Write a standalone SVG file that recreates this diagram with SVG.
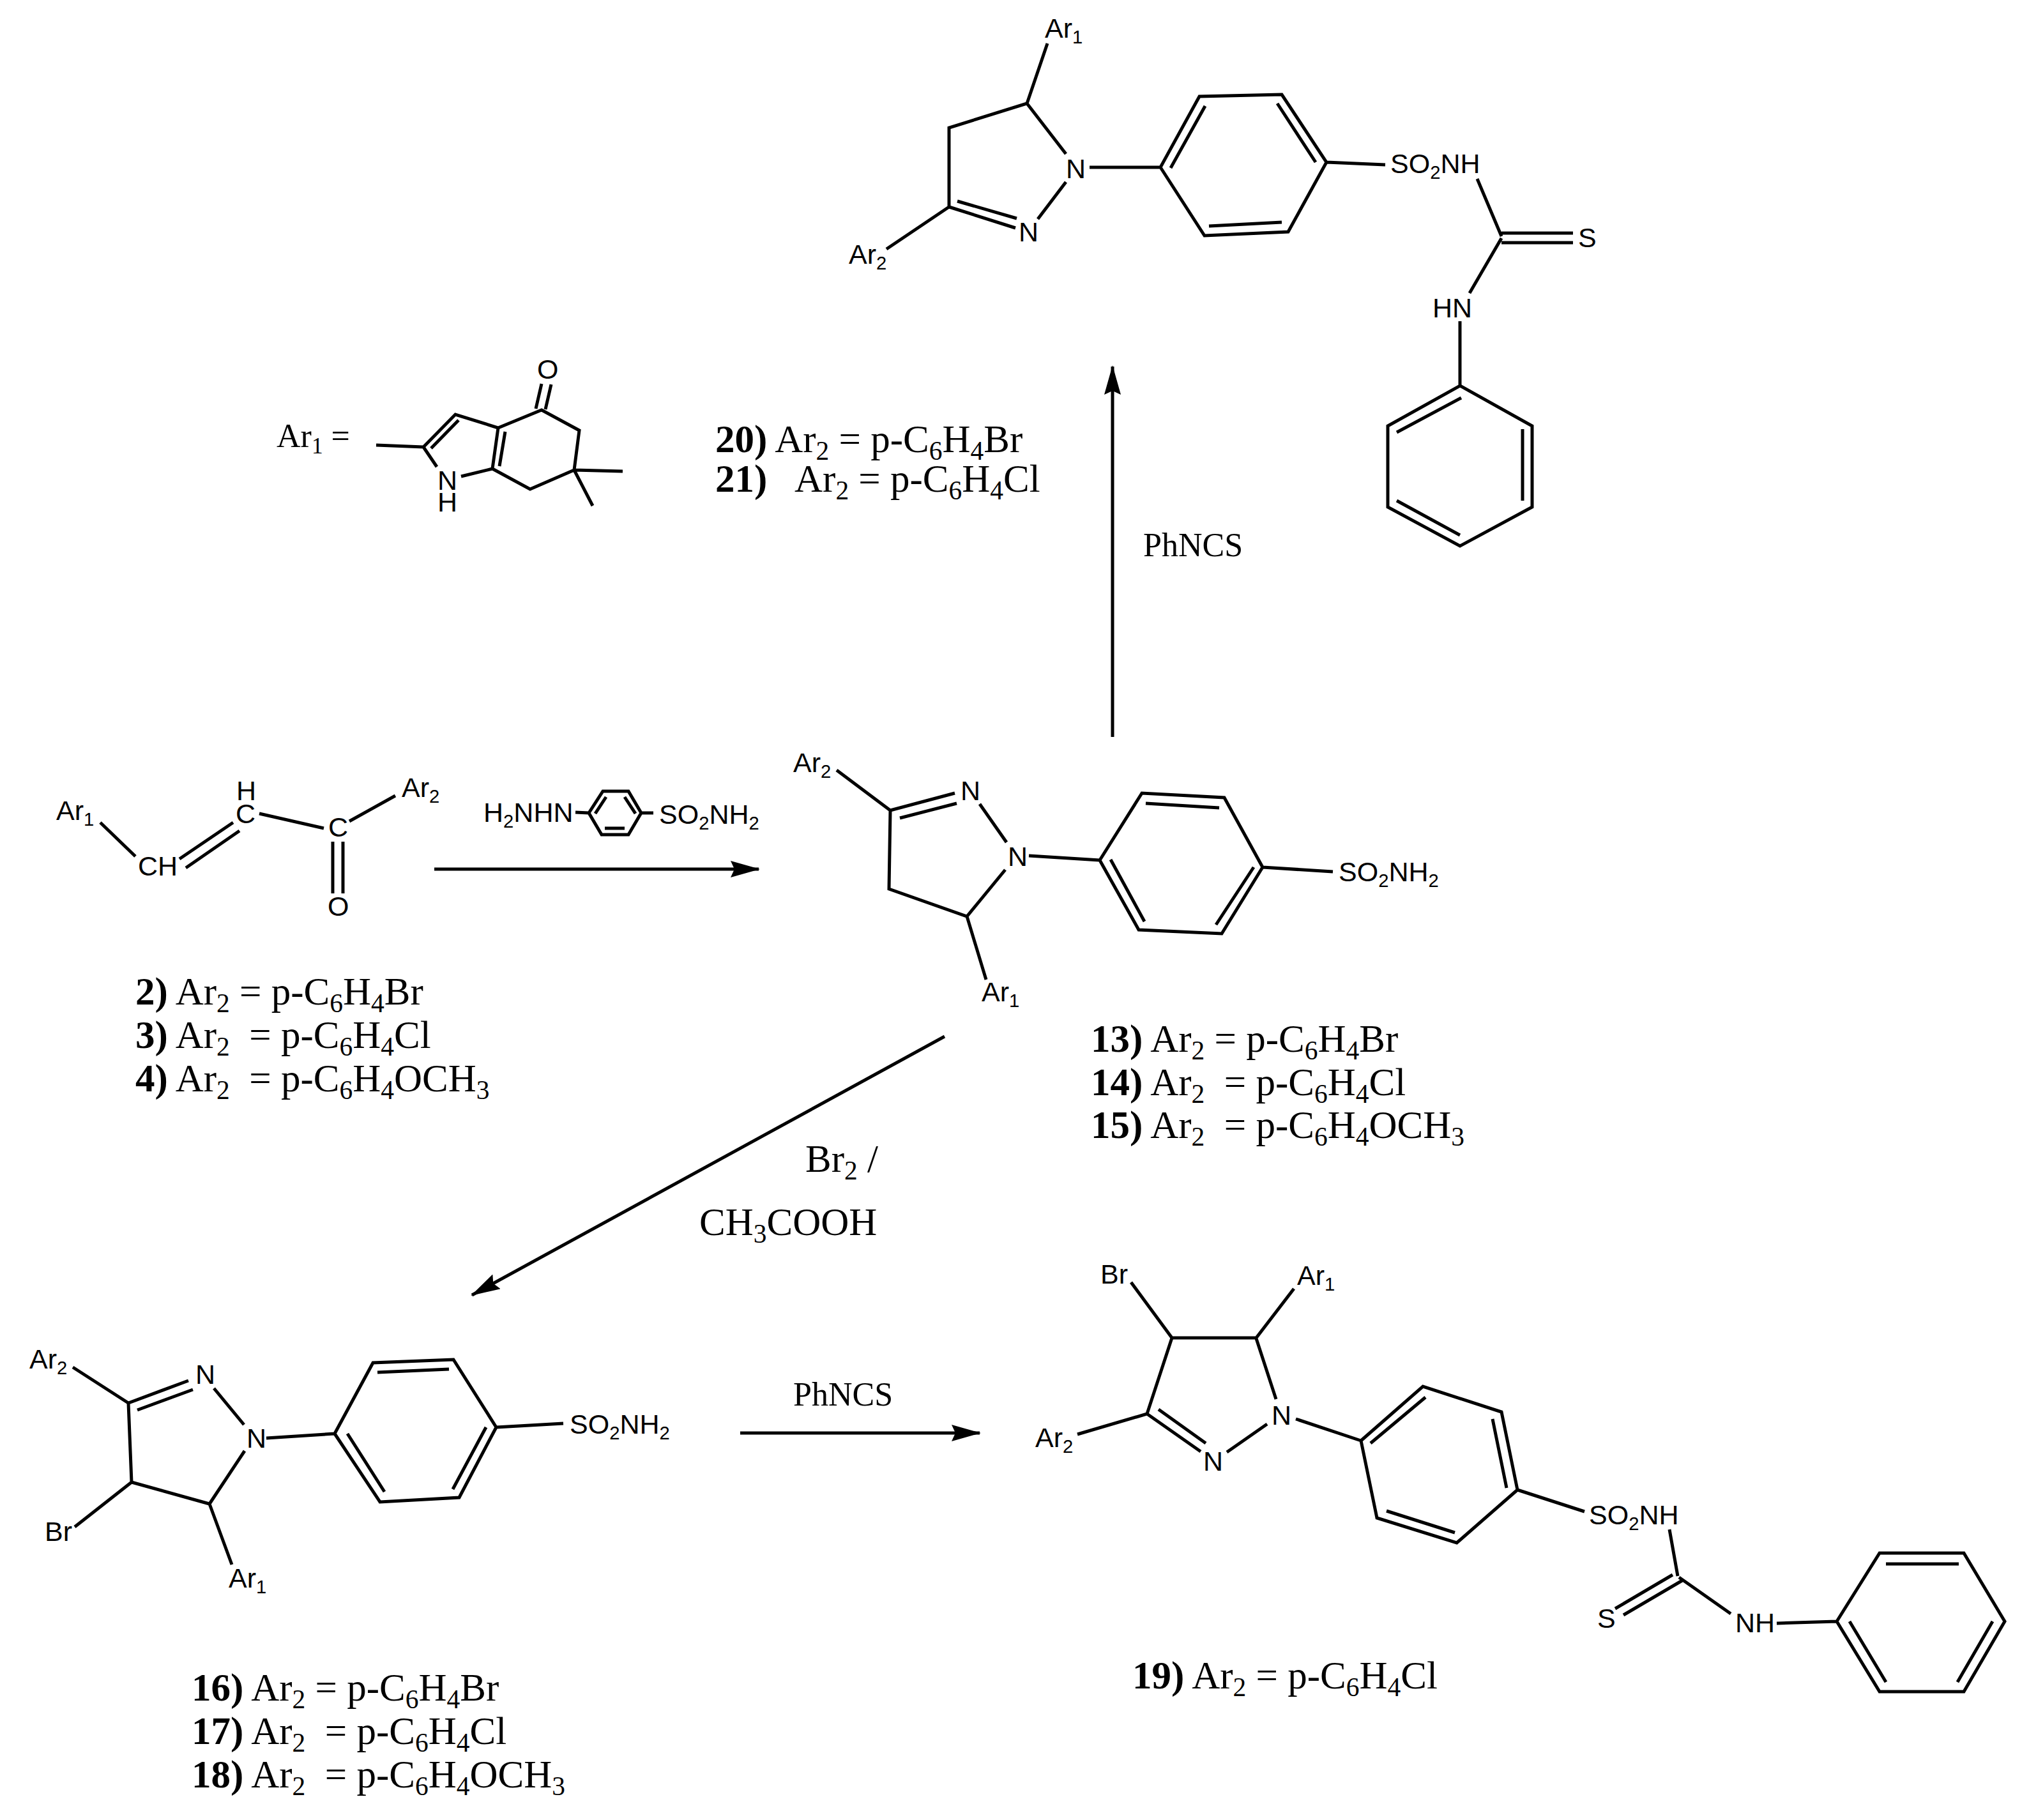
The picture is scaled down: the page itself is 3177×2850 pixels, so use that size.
<svg xmlns="http://www.w3.org/2000/svg" width="3177" height="2850" viewBox="0 0 3177 2850">
<style>
.b{fill:none;stroke:#000;stroke-width:5;stroke-linecap:butt;stroke-linejoin:miter}
.a{fill:none;stroke:#000;stroke-width:5}
text{fill:#000;white-space:pre}
.s{font-family:"Liberation Sans",Arial,sans-serif;font-size:43px}
.t{font-family:"Liberation Serif","Times New Roman",serif;font-size:61px}
.r{font-family:"Liberation Serif","Times New Roman",serif;font-size:52px}
.n{font-weight:bold}
.d{font-size:.68em}
</style>
<defs>
<marker id="h" markerUnits="userSpaceOnUse" markerWidth="50" markerHeight="30" refX="44" refY="13" orient="auto"><path d="M0 0L46 13L0 26L6 13Z" fill="#000"/></marker>
</defs>
<rect width="3177" height="2850" fill="#fff"/>
<g id="connectors">
<path class="a" d="M1742 1154V574" marker-end="url(#h)"/>
<path class="a" d="M680 1361H1188" marker-end="url(#h)"/>
<path class="a" d="M1479 1623L739 2028" marker-end="url(#h)"/>
<path class="a" d="M1159 2244H1534" marker-end="url(#h)"/>
</g>
<g id="reagents">
<text class="r" x="1790" y="871">PhNCS</text>
<text class="t" x="1261" y="1835">Br<tspan class="d" dy="12">2</tspan><tspan dy="-12"> /</tspan></text>
<text class="t" x="1095" y="1934">CH<tspan class="d" dy="12">3</tspan><tspan dy="-12">COOH</tspan></text>
<text class="r" x="1242" y="2201">PhNCS</text>
<g id="hydrazine">
<path class="b" d="M922 1273L944 1239H984L1004 1273L984 1307H942ZM949 1248L932 1274M978 1248L995 1274M947 1297H978M901 1272L922 1273M1004 1273H1023"/>
<text class="s" x="757" y="1287">H<tspan class="d" dy="9">2</tspan><tspan dy="-9">NHN</tspan></text>
<text class="s" x="1032" y="1290">SO<tspan class="d" dy="9">2</tspan><tspan dy="-9">NH</tspan><tspan class="d" dy="9">2</tspan></text>
</g>
</g>
<g id="compound-thiourea-top">
<path class="b" d="M1640 68L1608 162L1486 200V324L1388 390M1608 162L1669 241M1669 285L1625 343M1486 324L1590 357M1499 315L1592 342M1706 262H1817M1817 262L1878 151L2007 148L2077 254L2017 363L1886 369ZM1887 166L1833 263M2000 162L2060 254M1893 354L2007 348M2077 254L2169 258M2313 280L2351 370M2351 365H2463M2351 380H2463M2351 373L2301 459M2286 503V604M2286 604L2399 667V794L2286 855L2173 794V667ZM2288 623L2187 677M2384 672V784M2187 784L2286 838"/>
<text class="s" x="1636" y="59">Ar<tspan class="d" dy="9">1</tspan></text>
<text class="s" x="1669" y="279">N</text>
<text class="s" x="1595" y="378">N</text>
<text class="s" x="1329" y="413">Ar<tspan class="d" dy="9">2</tspan></text>
<text class="s" x="2177" y="271">SO<tspan class="d" dy="9">2</tspan><tspan dy="-9">NH</tspan></text>
<text class="s" x="2471" y="387">S</text>
<text class="s" x="2243" y="497">HN</text>
</g>
<g id="ar1-definition">
<path class="b" d="M589 697L663 700L713 649L780 670L771 734M663 700L684 731M722 746L771 734L830 766L899 736L907 674L848 642L780 670M675 702L718 658M791 676L782 730M839 640L848 601M854 641L863 602M899 736L975 738M899 736L928 792"/>
<text class="t" x="433" y="700" style="font-size:52px">Ar<tspan class="d" dy="10">1</tspan><tspan dy="-10"> =</tspan></text>
<text class="s" x="685" y="767">N</text>
<text class="s" x="685" y="801">H</text>
<text class="s" x="841" y="593">O</text>
</g>
<g id="labels-20-21">
<text class="t" x="1120" y="708"><tspan class="n">20)</tspan> Ar<tspan class="d" dy="12">2</tspan><tspan dy="-12"> = p-C</tspan><tspan class="d" dy="12">6</tspan><tspan dy="-12">H</tspan><tspan class="d" dy="12">4</tspan><tspan dy="-12">Br</tspan></text>
<text class="t" x="1120" y="770"><tspan class="n">21)</tspan><tspan x="1244">Ar</tspan><tspan class="d" dy="12">2</tspan><tspan dy="-12"> = p-C</tspan><tspan class="d" dy="12">6</tspan><tspan dy="-12">H</tspan><tspan class="d" dy="12">4</tspan><tspan dy="-12">Cl</tspan></text>
</g>
<g id="compound-chalcone">
<path class="b" d="M157 1288L212 1341M281 1345L365 1288M291 1359L375 1301M406 1274L507 1297M547 1286L619 1246M521 1318V1399M537 1318V1399"/>
<text class="s" x="88" y="1284">Ar<tspan class="d" dy="9">1</tspan></text>
<text class="s" x="216" y="1371">CH</text>
<text class="s" x="370" y="1253">H</text>
<text class="s" x="369" y="1289">C</text>
<text class="s" x="514" y="1310">C</text>
<text class="s" x="629" y="1248">Ar<tspan class="d" dy="9">2</tspan></text>
<text class="s" x="513" y="1434">O</text>
</g>
<g id="labels-2-4">
<text class="t" x="212" y="1573"><tspan class="n">2)</tspan> Ar<tspan class="d" dy="12">2</tspan><tspan dy="-12"> = p-C</tspan><tspan class="d" dy="12">6</tspan><tspan dy="-12">H</tspan><tspan class="d" dy="12">4</tspan><tspan dy="-12">Br</tspan></text>
<text class="t" x="212" y="1641"><tspan class="n">3)</tspan> Ar<tspan class="d" dy="12">2</tspan><tspan dy="-12">  = p-C</tspan><tspan class="d" dy="12">6</tspan><tspan dy="-12">H</tspan><tspan class="d" dy="12">4</tspan><tspan dy="-12">Cl</tspan></text>
<text class="t" x="212" y="1709"><tspan class="n">4)</tspan> Ar<tspan class="d" dy="12">2</tspan><tspan dy="-12">  = p-C</tspan><tspan class="d" dy="12">6</tspan><tspan dy="-12">H</tspan><tspan class="d" dy="12">4</tspan><tspan dy="-12">OCH</tspan><tspan class="d" dy="12">3</tspan></text>
</g>
<g id="compound-pyrazoline">
<path class="b" d="M1310 1206L1394 1269L1495 1242M1409 1281L1498 1258M1534 1259L1576 1319M1394 1269L1392 1392L1514 1435L1574 1362M1514 1435L1544 1534M1611 1340L1722 1347M1722 1347L1788 1242L1917 1249L1977 1358L1913 1462L1783 1456ZM1794 1258L1909 1265M1739 1346L1792 1443M1963 1358L1904 1448M1977 1358L2087 1365"/>
<text class="s" x="1242" y="1209">Ar<tspan class="d" dy="9">2</tspan></text>
<text class="s" x="1504" y="1253">N</text>
<text class="s" x="1578" y="1356">N</text>
<text class="s" x="1537" y="1568">Ar<tspan class="d" dy="9">1</tspan></text>
<text class="s" x="2096" y="1380">SO<tspan class="d" dy="9">2</tspan><tspan dy="-9">NH</tspan><tspan class="d" dy="9">2</tspan></text>
</g>
<g id="labels-13-15">
<text class="t" x="1708" y="1647"><tspan class="n">13)</tspan> Ar<tspan class="d" dy="12">2</tspan><tspan dy="-12"> = p-C</tspan><tspan class="d" dy="12">6</tspan><tspan dy="-12">H</tspan><tspan class="d" dy="12">4</tspan><tspan dy="-12">Br</tspan></text>
<text class="t" x="1708" y="1715"><tspan class="n">14)</tspan> Ar<tspan class="d" dy="12">2</tspan><tspan dy="-12">  = p-C</tspan><tspan class="d" dy="12">6</tspan><tspan dy="-12">H</tspan><tspan class="d" dy="12">4</tspan><tspan dy="-12">Cl</tspan></text>
<text class="t" x="1708" y="1782"><tspan class="n">15)</tspan> Ar<tspan class="d" dy="12">2</tspan><tspan dy="-12">  = p-C</tspan><tspan class="d" dy="12">6</tspan><tspan dy="-12">H</tspan><tspan class="d" dy="12">4</tspan><tspan dy="-12">OCH</tspan><tspan class="d" dy="12">3</tspan></text>
</g>
<g id="compound-bromo">
<path class="b" d="M114 2141L201 2197L295 2162M215 2208L302 2176M335 2174L382 2231M201 2197L206 2321L328 2355L383 2272M206 2321L117 2391M328 2355L363 2450M417 2252L524 2245M524 2245L584 2134L710 2129L777 2235L719 2345L595 2352ZM591 2149L703 2144M544 2245L602 2336M761 2235L709 2332M777 2235L882 2229"/>
<text class="s" x="46" y="2143">Ar<tspan class="d" dy="9">2</tspan></text>
<text class="s" x="306" y="2167">N</text>
<text class="s" x="386" y="2267">N</text>
<text class="s" x="70" y="2413">Br</text>
<text class="s" x="358" y="2486">Ar<tspan class="d" dy="9">1</tspan></text>
<text class="s" x="892" y="2245">SO<tspan class="d" dy="9">2</tspan><tspan dy="-9">NH</tspan><tspan class="d" dy="9">2</tspan></text>
</g>
<g id="labels-16-18">
<text class="t" x="300" y="2663"><tspan class="n">16)</tspan> Ar<tspan class="d" dy="12">2</tspan><tspan dy="-12"> = p-C</tspan><tspan class="d" dy="12">6</tspan><tspan dy="-12">H</tspan><tspan class="d" dy="12">4</tspan><tspan dy="-12">Br</tspan></text>
<text class="t" x="300" y="2731"><tspan class="n">17)</tspan> Ar<tspan class="d" dy="12">2</tspan><tspan dy="-12">  = p-C</tspan><tspan class="d" dy="12">6</tspan><tspan dy="-12">H</tspan><tspan class="d" dy="12">4</tspan><tspan dy="-12">Cl</tspan></text>
<text class="t" x="300" y="2799"><tspan class="n">18)</tspan> Ar<tspan class="d" dy="12">2</tspan><tspan dy="-12">  = p-C</tspan><tspan class="d" dy="12">6</tspan><tspan dy="-12">H</tspan><tspan class="d" dy="12">4</tspan><tspan dy="-12">OCH</tspan><tspan class="d" dy="12">3</tspan></text>
</g>
<g id="compound-bromo-thiourea">
<path class="b" d="M1771 2008L1835 2095H1967L2026 2018M1967 2096L1998 2191M1984 2230L1921 2274M1796 2214L1880 2273M1814 2207L1888 2260M1835 2095L1796 2214L1687 2246M2029 2222L2131 2256M2131 2256L2228 2171L2351 2211L2376 2333L2281 2416L2156 2377ZM2146 2260L2232 2188M2337 2222L2359 2330M2171 2366L2278 2400M2376 2333L2481 2367M2614 2395L2627 2468M2619 2466L2529 2519M2634 2475L2542 2529M2629 2470L2710 2527M2782 2542L2876 2539M2876 2539L2943 2432H3075L3139 2539L3075 2649H2943ZM2953 2449H3067M2896 2539L2953 2634M3120 2539L3065 2634"/>
<text class="s" x="1723" y="2010">Br</text>
<text class="s" x="2031" y="2012">Ar<tspan class="d" dy="9">1</tspan></text>
<text class="s" x="1991" y="2231">N</text>
<text class="s" x="1884" y="2303">N</text>
<text class="s" x="1621" y="2266">Ar<tspan class="d" dy="9">2</tspan></text>
<text class="s" x="2488" y="2387">SO<tspan class="d" dy="9">2</tspan><tspan dy="-9">NH</tspan></text>
<text class="s" x="2501" y="2549">S</text>
<text class="s" x="2717" y="2556">NH</text>
</g>
<g id="label-19">
<text class="t" x="1773" y="2644"><tspan class="n">19)</tspan> Ar<tspan class="d" dy="12">2</tspan><tspan dy="-12"> = p-C</tspan><tspan class="d" dy="12">6</tspan><tspan dy="-12">H</tspan><tspan class="d" dy="12">4</tspan><tspan dy="-12">Cl</tspan></text>
</g>
</svg>
